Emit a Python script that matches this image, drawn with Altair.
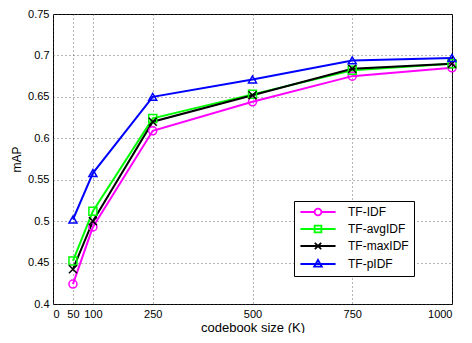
import altair as alt
import pandas as pd

sizes = [50, 100, 250, 500, 750, 1000]
series_names = ["TF-IDF", "TF-avgIDF", "TF-maxIDF", "TF-pIDF"]
tf_idf = [0.424, 0.493, 0.609, 0.644, 0.675, 0.685]
tf_avgidf = [0.452, 0.512, 0.624, 0.653, 0.682, 0.690]
tf_maxidf = [0.442, 0.500, 0.620, 0.652, 0.684, 0.690]
tf_pidf = [0.502, 0.558, 0.650, 0.671, 0.694, 0.697]
x_ticks = [0, 50, 100, 250, 500, 750, 1000]
y_ticks = [0.4, 0.45, 0.5, 0.55, 0.6, 0.65, 0.7, 0.75]

colors = ["#ff00ff", "#00ff00", "#000000", "#0000ff"]
marker_shapes = ["circle", "square", "M-1,-1L1,1M-1,1L1,-1", "triangle-up"]
legend_shapes = [
    "M-3.9,0L-0.75,0M0.75,0A0.75,0.75,0,1,1,-0.75,0A0.75,0.75,0,1,1,0.75,0M0.75,0L3.9,0",
    "M-3.9,0L3.9,0M-0.75,-0.75L0.75,-0.75L0.75,0.75L-0.75,0.75Z",
    "M-3.9,0L3.9,0M-0.7,-0.7L0.7,0.7M-0.7,0.7L0.7,-0.7",
    "M-3.9,0L3.9,0M0,-0.9L0.85,0.6L-0.85,0.6Z",
]

rows = []
for name, vals in zip(series_names, [tf_idf, tf_avgidf, tf_maxidf, tf_pidf]):
    for s, v in zip(sizes, vals):
        rows.append({"size": s, "map": v, "series": name})
df = pd.DataFrame(rows)

font = "Liberation Sans"

x_enc = alt.X(
    "size:Q",
    scale=alt.Scale(domain=[0, 1000], nice=False),
    axis=alt.Axis(values=x_ticks, title="codebook size (K)", format="d"),
)
y_enc = alt.Y(
    "map:Q",
    scale=alt.Scale(domain=[0.4, 0.75], nice=False, zero=False),
    axis=alt.Axis(values=y_ticks, title="mAP", format=".2~f"),
)
color_scale = alt.Scale(domain=series_names, range=colors)

base = alt.Chart(df)

lines = base.mark_line(strokeWidth=2).encode(
    x=x_enc,
    y=y_enc,
    color=alt.Color("series:N", scale=color_scale, legend=None),
    detail="series:N",
    order="size:Q",
)

points = base.mark_point(filled=False, size=64, strokeWidth=1.5, opacity=1).encode(
    x=x_enc,
    y=y_enc,
    color=alt.Color("series:N", scale=color_scale, legend=None),
    shape=alt.Shape("series:N", scale=alt.Scale(domain=series_names, range=marker_shapes), legend=None),
)

leg = dict(title=None, orient="none", legendX=241, legendY=187,
           symbolOpacity=1, symbolStrokeWidth=1.8, symbolSize=81,
           symbolOffset=13, labelOffset=24)

legend_layer = base.mark_point(filled=False, opacity=0, size=81).encode(
    x=x_enc,
    y=y_enc,
    color=alt.Color("series:N", scale=color_scale, legend=alt.Legend(**leg)),
    shape=alt.Shape("series:N", scale=alt.Scale(domain=series_names, range=legend_shapes),
                    legend=alt.Legend(**leg)),
)

chart = (
    alt.layer(lines, points, legend_layer)
    .resolve_scale(color="independent", shape="independent")
    .properties(width=399, height=290, padding={"left": 45, "top": 6, "right": 12, "bottom": 29},
                autosize=alt.AutoSizeParams(type="none"))
    .configure_view(stroke="black", strokeWidth=1)
    .configure_axis(
        labelFont=font, titleFont=font, labelFontSize=11, titleFontSize=13,
        titleFontWeight="normal", labelColor="black", titleColor="black",
        grid=True, gridColor="#444444", gridDash=[1, 3], gridOpacity=0.8, gridWidth=1,
        domain=False, ticks=False, labelPadding=4,
    )
    .configure_axisY(titlePadding=4, titleFontSize=12)
    .configure_axisX(titlePadding=2)
    .configure_legend(
        labelFont=font, labelFontSize=12, labelColor="black",
        fillColor="white", strokeColor="black", padding=5, rowPadding=3,
    )
)

chart.save("out.html", embed_options={"renderer": "svg", "actions": False})
